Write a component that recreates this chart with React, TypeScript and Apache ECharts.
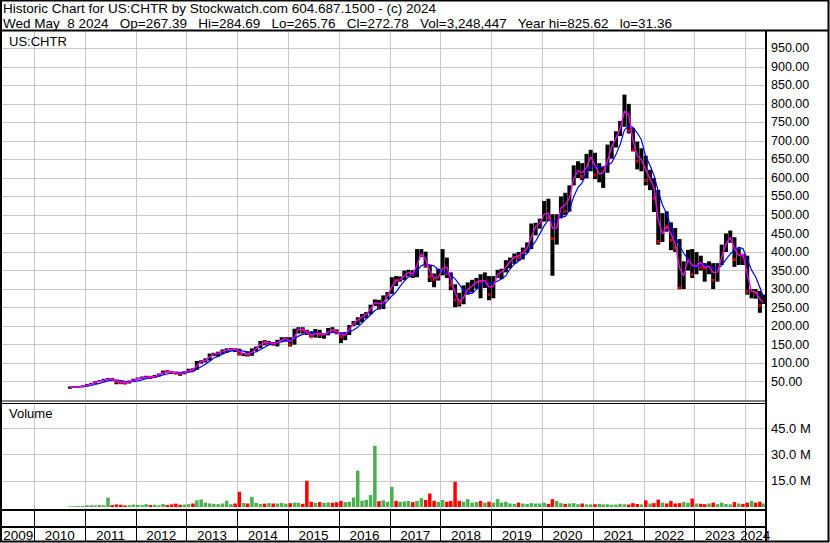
import React, { useEffect, useRef } from 'react';
import * as echarts from 'echarts';

const FONT = "'Liberation Sans', Arial, sans-serif";

// Monthly samples from Sep 2010 to May 2024
const FIRST_YEAR = 2010;
const FIRST_MONTH = 8; // September (0-based)

const closes = [
  35, 36, 36, 39,
  42, 45, 50, 52, 56, 58, 55, 50, 47, 46, 51, 57,
  59, 62, 63, 62, 66, 71, 78, 77, 75, 73, 72, 76,
  83, 82, 104, 106, 109, 124, 126, 127, 135, 136, 139, 137,
  125, 125, 123, 135, 143, 158, 155, 156, 151, 160, 165, 167,
  150, 190, 193, 189, 181, 171, 186, 176, 176, 191, 188, 183,
  171, 180, 202, 212, 221, 229, 234, 257, 270, 250, 275, 288,
  324, 323, 327, 345, 345, 337, 392, 398, 363, 334, 326, 336,
  377, 342, 311, 271, 261, 293, 305, 311, 326, 320, 326, 285,
  331, 346, 347, 371, 377, 395, 385, 410, 412, 468, 470, 485,
  518, 492, 436, 495, 544, 510, 580, 616, 624, 604, 652, 662,
  608, 612, 617, 674, 694, 721, 744, 816, 727, 675, 645, 652,
  593, 602, 545, 428, 470, 468, 432, 412, 303, 368, 391, 339,
  384, 359, 357, 366, 324, 367, 405, 438, 440, 380, 400, 389,
  293, 294, 290, 256, 273,
];

const highs = [
  37, 38, 38, 40,
  44, 47, 51, 54, 58, 60, 60, 55, 52, 50, 53, 58,
  61, 64, 66, 65, 68, 72, 80, 81, 78, 77, 74, 78,
  85, 86, 106, 108, 113, 126, 128, 131, 137, 140, 141, 140,
  139, 128, 132, 140, 145, 160, 162, 160, 157, 163, 170, 170,
  170, 193, 197, 197, 190, 185, 192, 190, 180, 195, 197, 191,
  182, 184, 203, 214, 224, 233, 238, 258, 272, 271, 283, 292,
  332, 335, 334, 350, 352, 351, 408, 408, 401, 366, 342, 355,
  408, 385, 345, 313, 290, 310, 318, 325, 330, 340, 345, 335,
  335, 352, 355, 378, 385, 396, 400, 412, 426, 477, 479, 490,
  538, 544, 502, 502, 550, 560, 580, 634, 645, 640, 665, 676,
  668, 640, 630, 690, 700, 726, 754, 825, 800, 735, 698, 680,
  660, 622, 600, 568, 505, 510, 480, 465, 435, 375, 406, 408,
  400, 390, 370, 375, 370, 370, 420, 450, 458, 440, 410, 395,
  390, 300, 300, 295, 285,
];

const lows = [
  31, 34, 34, 35,
  38, 42, 44, 49, 51, 54, 53, 43, 44, 43, 45, 50,
  56, 58, 60, 58, 60, 64, 70, 74, 72, 70, 66, 70,
  76, 78, 82, 99, 102, 107, 119, 118, 125, 128, 134, 130,
  121, 119, 118, 120, 133, 140, 148, 150, 148, 145, 158, 160,
  145, 150, 180, 180, 176, 170, 169, 168, 166, 175, 183, 178,
  154, 162, 176, 200, 203, 210, 221, 232, 254, 245, 246, 272,
  287, 308, 320, 324, 334, 330, 332, 387, 358, 319, 305, 323,
  337, 330, 297, 251, 253, 259, 285, 291, 301, 275, 303, 270,
  275, 330, 327, 345, 356, 368, 376, 380, 398, 408, 445, 463,
  482, 484, 336, 420, 491, 500, 509, 580, 600, 594, 599, 618,
  597, 588, 573, 614, 652, 682, 713, 738, 720, 672, 623, 618,
  580, 567, 508, 420, 427, 455, 405, 400, 300, 300, 350, 330,
  340, 350, 320, 340, 300, 320, 365, 400, 425, 360, 365, 365,
  285, 275, 274, 236, 260,
];

// Volume in millions of shares
const volumes = [
  0.4, 0.5, 0.6, 0.6,
  1.0, 1.0, 0.9, 1.2, 1.0, 5.4, 1.1, 1.5, 1.3, 0.9, 1.0, 1.4,
  1.2, 1.0, 1.6, 1.1, 1.3, 1.0, 1.7, 1.2, 1.5, 1.9, 1.3, 1.4,
  1.6, 2.0, 3.8, 4.3, 2.5, 2.0, 1.8, 1.6, 2.0, 3.6, 1.6, 2.0,
  8.7, 2.3, 2.0, 5.8, 2.4, 1.8, 1.9, 2.2, 2.0, 2.0, 2.3, 1.9,
  2.2, 2.5, 2.4, 1.8, 15.0, 3.0, 2.4, 2.8, 2.4, 2.6, 2.4, 2.7,
  3.5, 2.8, 3.0, 5.5, 20.8, 3.6, 4.0, 6.8, 35.0, 3.3, 3.8, 3.0,
  11.5, 3.5, 3.0, 3.2, 3.5, 2.8, 3.5, 5.0, 4.0, 7.7, 3.5, 3.0,
  4.0, 3.0, 3.5, 14.4, 3.5, 3.0, 4.5, 2.5, 2.8, 3.5, 2.5, 3.0,
  2.5, 4.5, 2.5, 3.0, 2.0, 1.8, 2.5, 2.0, 1.8, 2.2, 2.0, 2.0,
  2.5, 1.8, 4.5, 3.5, 2.2, 1.8, 2.0, 2.2, 1.6, 2.0, 1.5, 1.5,
  1.6, 1.8, 1.5, 1.6, 1.3, 1.4, 1.8, 1.6, 1.4, 2.2, 1.7, 1.5,
  3.8, 2.0, 2.2, 4.2, 2.5, 2.0, 3.5, 2.0, 2.2, 2.8, 2.5, 4.8,
  2.0, 1.8, 1.6, 2.0, 2.5, 1.6, 2.5, 1.8, 1.5, 2.8, 2.0, 1.7,
  2.5, 3.5, 2.5, 3.0, 2.0,
];

const years = [2009, 2010, 2011, 2012, 2013, 2014, 2015, 2016, 2017, 2018, 2019, 2020, 2021, 2022, 2023, 2024];
const priceTicks = [50, 100, 150, 200, 250, 300, 350, 400, 450, 500, 550, 600, 650, 700, 750, 800, 850, 900, 950];
const volumeTicks = [15, 30, 45];

const headerLine1 = 'Historic Chart for US:CHTR by Stockwatch.com 604.687.1500 - (c) 2024';
const headerLine2 = 'Wed May  8 2024   Op=267.39   Hi=284.69   Lo=265.76   Cl=272.78   Vol=3,248,447   Year hi=825.62   lo=31.36';

// axis range: year boundaries at 2010 -> x 34.3, 2024 -> x 745.3, plot from x 2 to 765
const Y2010 = Date.UTC(2010, 0, 1);
const Y2024 = Date.UTC(2024, 0, 1);
const MS_PER_PX = (Y2024 - Y2010) / 711;
const X_MIN = Y2010 - 32.3 * MS_PER_PX;
const X_MAX = Y2024 + 19.7 * MS_PER_PX;

function buildOption() {
  const n = closes.length;
  const times: number[] = [];
  for (let i = 0; i < n; i++) {
    times.push(i === n - 1 ? Date.UTC(2024, 4, 8) : Date.UTC(FIRST_YEAR, FIRST_MONTH + i, 15));
  }
  const opens = closes.map((c, i) => (i === 0 ? 34 : closes[i - 1]));
  const sma = (k: number) =>
    closes.map((_, i) => {
      const s = Math.max(0, i - k + 1);
      const part = closes.slice(s, i + 1);
      return part.reduce((a, b) => a + b, 0) / part.length;
    });
  const fast = sma(2);
  const slow = sma(5);

  const yearStarts = years.slice(1).map((y) => Date.UTC(y, 0, 1));
  const yearMids = years.map((y) => {
    const s = Math.max(Date.UTC(y, 0, 1), X_MIN);
    const e = Math.min(Date.UTC(y + 1, 0, 1), X_MAX);
    return (s + e) / 2;
  });

  const grid = '#c8c8c8';

  const xAxes = [0, 1, 2].map((i) => ({
    type: 'value',
    gridIndex: i,
    min: X_MIN,
    max: X_MAX,
    axisLine: { show: false },
    axisTick: {
      show: i === 2,
      customValues: yearStarts,
      length: 14,
      lineStyle: { color: '#000', width: 1 },
    },
    axisLabel:
      i === 2
        ? {
            show: true,
            customValues: yearMids,
            formatter: (v: number) => String(new Date(v).getUTCFullYear()),
            fontFamily: FONT,
            fontSize: 13.5,
            color: '#000',
            margin: 1,
            hideOverlap: false,
          }
        : { show: false },
    splitLine: { show: true, lineStyle: { color: i === 2 ? '#000' : grid, width: 1 } },
  }));

  return {
    animation: false,
    backgroundColor: '#fff',
    textStyle: { fontFamily: FONT },
    grid: [
      { left: 2, top: 32, width: 763, height: 368.2 },
      { left: 2, top: 404, width: 763, height: 105.5 },
      { left: 2, top: 511, width: 763, height: 16 },
    ],
    xAxis: xAxes,
    yAxis: [
      {
        type: 'value',
        gridIndex: 0,
        position: 'right',
        min: 0,
        max: 994,
        axisLine: { show: false },
        axisTick: { show: false, customValues: priceTicks },
        axisLabel: {
          customValues: priceTicks,
          formatter: (v: number) => v.toFixed(2),
          fontFamily: FONT,
          fontSize: 12.5,
          color: '#000',
          margin: 6,
        },
        splitLine: { show: true, lineStyle: { color: grid, width: 1 } },
      },
      {
        type: 'value',
        gridIndex: 1,
        position: 'right',
        min: -1.43,
        max: 58.9,
        axisLine: { show: false },
        axisTick: { show: false, customValues: volumeTicks },
        axisLabel: {
          customValues: volumeTicks,
          formatter: (v: number) => v.toFixed(1) + ' M',
          fontFamily: FONT,
          fontSize: 13,
          color: '#000',
          margin: 6,
        },
        splitLine: { show: true, lineStyle: { color: grid, width: 1 } },
      },
      { type: 'value', gridIndex: 2, show: false, min: 0, max: 1, splitLine: { show: false } },
    ],
    series: [
      {
        type: 'custom',
        xAxisIndex: 0,
        yAxisIndex: 0,
        data: times.map((t, i) => [t, lows[i], highs[i]]),
        encode: { x: 0, y: [1, 2] },
        renderItem: (_p: any, api: any) => {
          const t = api.value(0);
          const top = api.coord([t, api.value(2)]);
          const bot = api.coord([t, api.value(1)]);
          return {
            type: 'rect',
            shape: { x: top[0] - 2, y: top[1], width: 4, height: Math.max(1, bot[1] - top[1]) },
            style: { fill: '#000' },
          };
        },
        z: 2,
      },
      {
        type: 'scatter',
        xAxisIndex: 0,
        yAxisIndex: 0,
        symbol: 'rect',
        symbolSize: [3, 3],
        itemStyle: { color: '#ff0000' },
        data: times.map((t, i) => [t, closes[i]]).filter((_, i) => closes[i] < opens[i]),
        z: 3,
      },
      {
        type: 'line',
        xAxisIndex: 0,
        yAxisIndex: 0,
        showSymbol: false,
        symbol: 'none',
        lineStyle: { color: '#0000ff', width: 1.2 },
        data: times.map((t, i) => [t, slow[i]]),
        z: 4,
      },
      {
        type: 'line',
        xAxisIndex: 0,
        yAxisIndex: 0,
        showSymbol: false,
        symbol: 'none',
        lineStyle: { color: '#ff00ff', width: 1.3 },
        data: times.map((t, i) => [t, fast[i]]),
        z: 5,
      },
      {
        type: 'bar',
        xAxisIndex: 1,
        yAxisIndex: 1,
        barWidth: 3.5,
        data: times.map((t, i) => ({
          value: [t, volumes[i]],
          itemStyle: { color: closes[i] >= opens[i] ? '#4caf50' : '#ff0000' },
        })),
      },
    ],
    graphic: [
      { type: 'text', x: 3, y: 8, style: { text: headerLine1, fontFamily: FONT, fontSize: 13.5, fill: '#000', verticalAlign: 'middle' }, z: 100 },
      { type: 'text', x: 3, y: 23, style: { text: headerLine2, fontFamily: FONT, fontSize: 13.5, fill: '#000', verticalAlign: 'middle' }, z: 100 },
      { type: 'text', x: 9, y: 41, style: { text: 'US:CHTR', fontFamily: FONT, fontSize: 13, fill: '#000', verticalAlign: 'middle' }, z: 100 },
      { type: 'text', x: 9, y: 413, style: { text: 'Volume', fontFamily: FONT, fontSize: 13, fill: '#000', verticalAlign: 'middle' }, z: 100 },
      { type: 'rect', shape: { x: 1, y: 0.5, width: 827.5, height: 541 }, style: { fill: 'none', stroke: '#000', lineWidth: 2 }, z: 100 },
      { type: 'line', shape: { x1: 0, y1: 30.5, x2: 829, y2: 30.5 }, style: { stroke: '#000', lineWidth: 2 }, z: 100 },
      { type: 'line', shape: { x1: 766, y1: 31, x2: 766, y2: 542 }, style: { stroke: '#000', lineWidth: 2 }, z: 100 },
      { type: 'line', shape: { x1: 0, y1: 401, x2: 766, y2: 401 }, style: { stroke: '#000', lineWidth: 1 }, z: 100 },
      { type: 'line', shape: { x1: 0, y1: 403.5, x2: 766, y2: 403.5 }, style: { stroke: '#000', lineWidth: 1 }, z: 100 },
      { type: 'line', shape: { x1: 0, y1: 510, x2: 766, y2: 510 }, style: { stroke: '#000', lineWidth: 2 }, z: 100 },
      { type: 'line', shape: { x1: 0, y1: 527, x2: 766, y2: 527 }, style: { stroke: '#000', lineWidth: 2 }, z: 100 },
    ],
  };
}

export default function App() {
  const ref = useRef<HTMLDivElement>(null);
  useEffect(() => {
    document.body.style.margin = '0';
    if (!ref.current) return;
    const chart = echarts.init(ref.current, undefined, { renderer: 'svg' });
    chart.setOption(buildOption() as any);
    return () => chart.dispose();
  }, []);
  return <div ref={ref} style={{ position: 'absolute', left: 0, top: 0, width: 830, height: 543 }} />;
}
